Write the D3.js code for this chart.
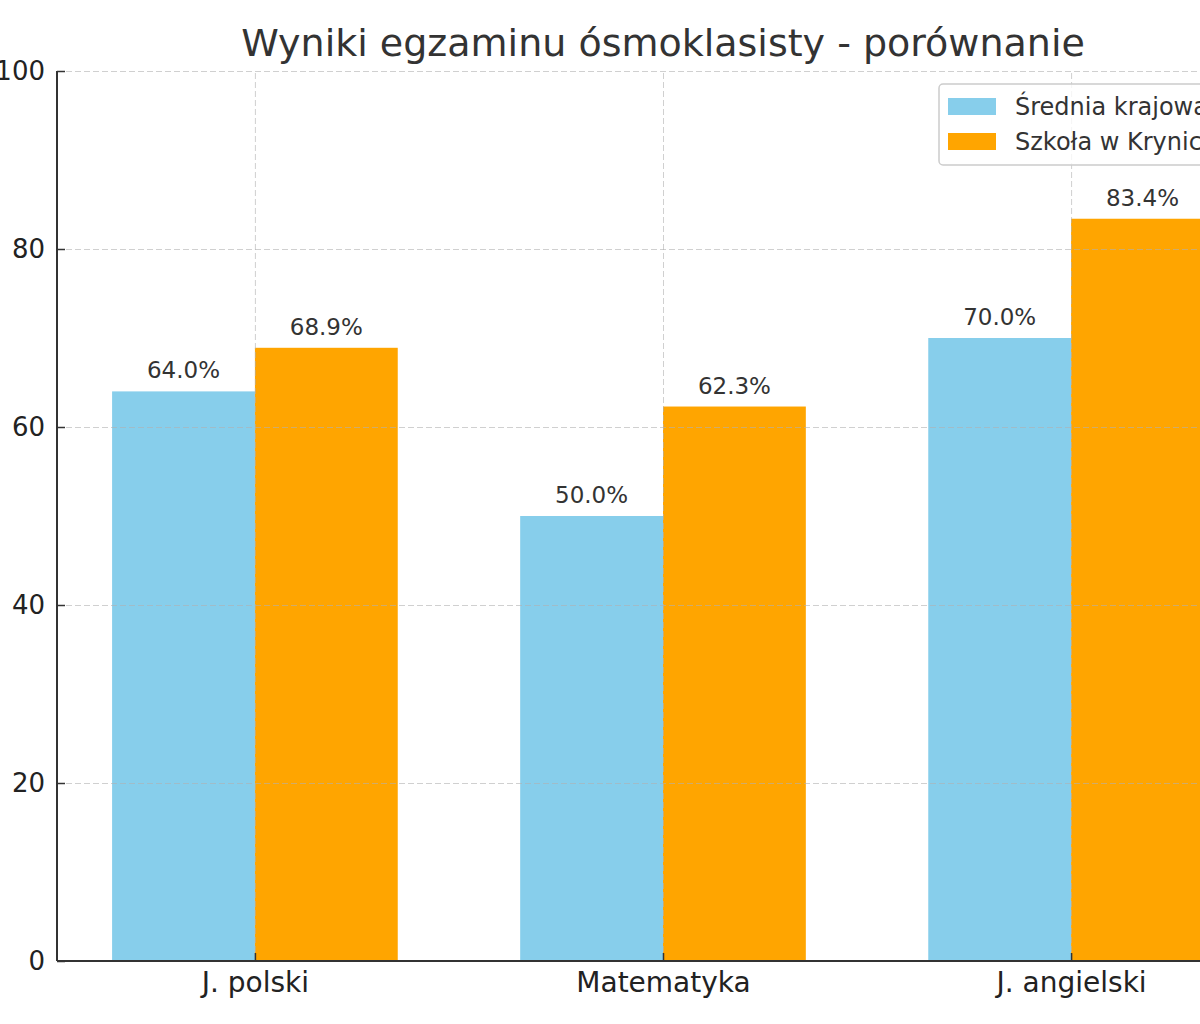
<!DOCTYPE html>
<html>
<head>
<meta charset="utf-8">
<script src="https://cdn.jsdelivr.net/npm/d3@7"></script>
<style>
  body { margin: 0; background: #fff; }
  svg { display: block; font-family: "DejaVu Sans", sans-serif; }
</style>
</head>
<body>
<div id="vis"></div>
<script>
// data
let categories = ['J. polski', 'Matematyka', 'J. angielski'];
let seriesNames = ['Średnia krajowa', 'Szkoła w Krynicy'];
let national = [64.0, 50.0, 70.0];
let school = [68.9, 62.3, 83.4];
let yTicks = [0, 20, 40, 60, 80, 100];
let colors = ['#87ceeb', '#ffa500'];

let margin = { top: 71, left: 57, right: 0, bottom: 63 },
  fullWidth = 1200,
  fullHeight = 1024,
  plotRight = 1269, // axes run past the right edge of the picture
  height = fullHeight - margin.top - margin.bottom;

let svg = d3
  .select('#vis')
  .append('svg')
  .attr('width', fullWidth)
  .attr('height', fullHeight)
  .style('background-color', 'white');

// category index scale, matplotlib-like margins
let barW = 0.35;
let x = d3.scaleLinear().domain([-0.485, 2.485]).range([margin.left, plotRight]);
let y = d3.scaleLinear().domain([0, 100]).range([margin.top + height, margin.top]);

let series = [national, school];

// bars
series.forEach(function (vals, s) {
  svg
    .append('g')
    .selectAll('rect')
    .data(vals)
    .join('rect')
    .attr('x', (d, i) => x(i + (s === 0 ? -barW : 0)))
    .attr('width', x(barW) - x(0))
    .attr('y', (d) => y(d))
    .attr('height', (d) => y(0) - y(d))
    .attr('fill', colors[s]);

  svg
    .append('g')
    .selectAll('text')
    .data(vals)
    .join('text')
    .attr('x', (d, i) => x(i + (s === 0 ? -barW / 2 : barW / 2)))
    .attr('y', (d) => y(d) - 13)
    .attr('text-anchor', 'middle')
    .attr('font-size', 23)
    .attr('fill', '#333')
    .text((d) => d.toFixed(1) + '%');
});

// grid (drawn faintly over the bars)
let grid = svg.append('g').attr('stroke', '#b0b0b0').attr('stroke-opacity', 0.6)
  .attr('stroke-dasharray', '6,3').attr('stroke-width', 1);
grid.selectAll('line.h')
  .data(yTicks)
  .join('line')
  .attr('class', 'h')
  .attr('x1', margin.left)
  .attr('x2', plotRight)
  .attr('y1', (d) => y(d) + 0.5)
  .attr('y2', (d) => y(d) + 0.5);
grid.selectAll('line.v')
  .data(categories)
  .join('line')
  .attr('class', 'v')
  .attr('x1', (d, i) => x(i) + 0.5)
  .attr('x2', (d, i) => x(i) + 0.5)
  .attr('y1', y(0))
  .attr('y2', y(100));

// y axis, ticks pointing inward
let yAxis = svg
  .append('g')
  .attr('transform', 'translate(' + margin.left + ',0)')
  .call(d3.axisLeft(y).tickValues(yTicks).tickSize(-8).tickPadding(12).tickFormat(d3.format('d')));
yAxis.select('.domain').attr('stroke', '#333').attr('stroke-width', 2).attr('d', 'M0,' + y(0) + 'V' + y(100));
yAxis.selectAll('.tick line').attr('stroke', '#333').attr('stroke-width', 1.5);
yAxis.selectAll('.tick text').attr('font-size', 26).attr('fill', '#222')
  .attr('font-family', '"DejaVu Sans", sans-serif');

// x axis
let xAxis = svg
  .append('g')
  .attr('transform', 'translate(0,' + y(0) + ')')
  .call(d3.axisBottom(x).tickValues([0, 1, 2]).tickSize(-8).tickPadding(11)
    .tickFormat((d) => categories[d]));
xAxis.select('.domain').attr('stroke', '#333').attr('stroke-width', 2)
  .attr('d', 'M' + margin.left + ',0H' + plotRight);
xAxis.selectAll('.tick line').attr('stroke', '#333').attr('stroke-width', 1.5);
xAxis.selectAll('.tick text').attr('font-size', 28).attr('fill', '#222')
  .attr('font-family', '"DejaVu Sans", sans-serif');

// title
svg
  .append('text')
  .attr('x', (margin.left + plotRight) / 2)
  .attr('y', 56)
  .attr('text-anchor', 'middle')
  .attr('font-size', 38)
  .attr('fill', '#333')
  .text('Wyniki egzaminu ósmoklasisty - porównanie');

// legend
let legend = svg.append('g').attr('transform', 'translate(939,84)');
legend
  .append('rect')
  .attr('width', 330)
  .attr('height', 81)
  .attr('rx', 4)
  .attr('fill', 'white')
  .attr('fill-opacity', 0.8)
  .attr('stroke', '#ccc')
  .attr('stroke-width', 1.5);
seriesNames.forEach(function (name, i) {
  legend
    .append('rect')
    .attr('x', 9)
    .attr('y', 14 + i * 35)
    .attr('width', 48)
    .attr('height', 17)
    .attr('fill', colors[i]);
  legend
    .append('text')
    .attr('x', 76)
    .attr('y', 31 + i * 35)
    .attr('font-size', 24)
    .attr('fill', '#333')
    .text(name);
});
</script>
</body>
</html>
